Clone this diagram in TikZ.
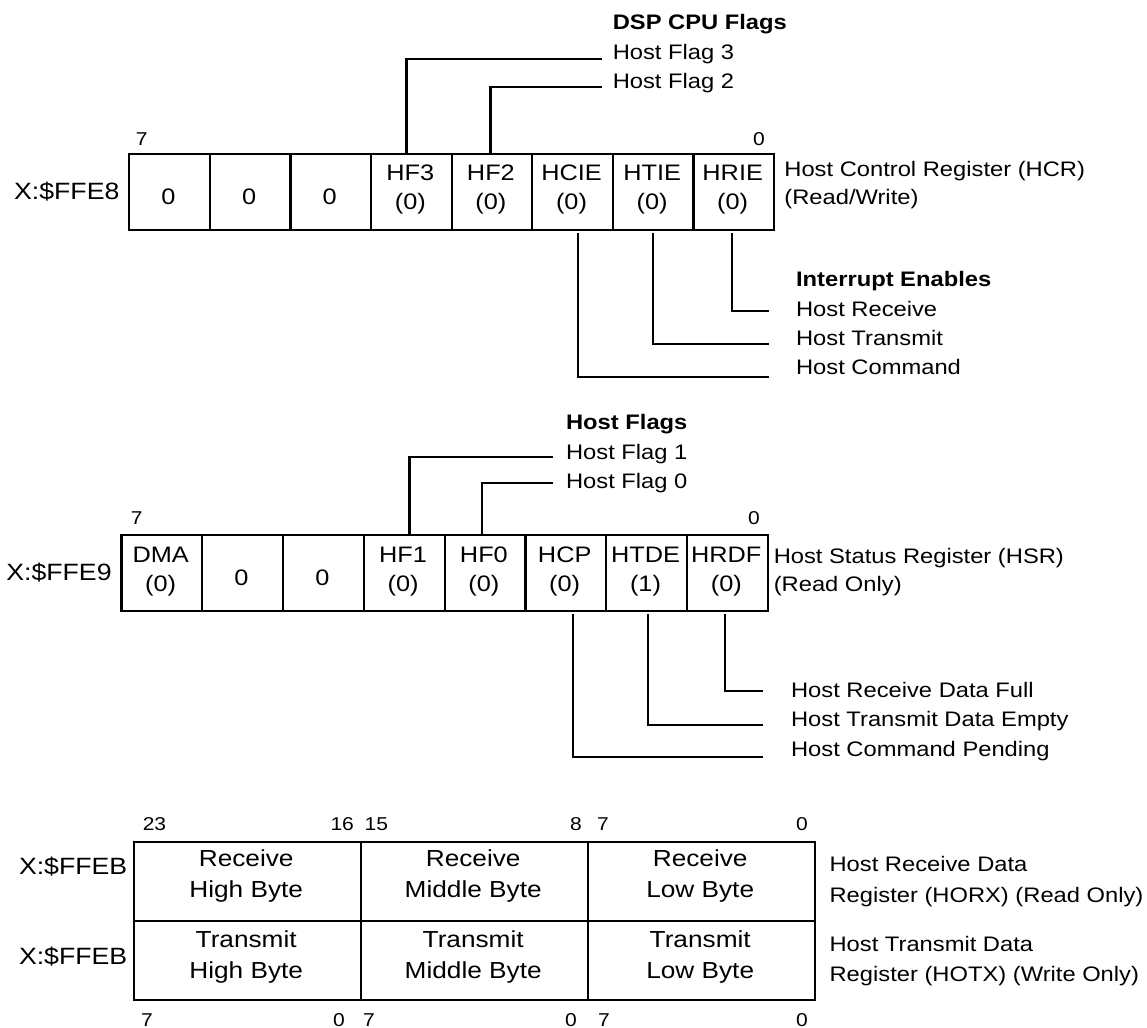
\documentclass[tikz,border=0pt]{standalone}
\usepackage{fontspec}
\setmainfont[FakeStretch=1.13]{Liberation Sans}
\begin{document}
\begin{tikzpicture}[x=0.5pt,y=-0.5pt,
  line width=1.1pt,
  cell/.style={draw, rectangle, inner sep=0pt, anchor=north west, minimum width=40.3pt, minimum height=38.25pt},
  mcell/.style={draw, rectangle, inner sep=0pt, anchor=north west, minimum width=40.4pt, minimum height=38.25pt},
  wcell/.style={draw, rectangle, inner sep=0pt, anchor=north west, minimum width=113.5pt, minimum height=39.6pt},
  lbl/.style={anchor=base west, inner sep=0pt, font=\fontsize{10.5}{12}\selectfont},
  hdr/.style={anchor=base west, inner sep=0pt, font=\fontsize{10.5}{12}\selectfont\bfseries},
  ctext/.style={anchor=base, inner sep=0pt, font=\fontsize{11.2}{13}\selectfont},
  btext/.style={anchor=base, inner sep=0pt, font=\fontsize{11.6}{13}\selectfont},
  addr/.style={anchor=base east, inner sep=0pt, font=\fontsize{11.8}{13}\selectfont},
  bitw/.style={anchor=base west, inner sep=0pt, font=\fontsize{9.3}{11}\selectfont},
  bite/.style={anchor=base east, inner sep=0pt, font=\fontsize{9.3}{11}\selectfont},
  lead/.style={line width=1.1pt}
]
\useasboundingbox (0,0) rectangle (1147,1028);

% ---------------- Host Control Register ----------------
\foreach \i in {1,...,8} {
  \node[cell] (a\i) at ({128.2+(\i-1)*80.6},152.5) {};
}
\node[addr] (ax) at (120.5,199.5) {X:\$FFE8};
\node[bitw] (a7b) at (134.7,145) {7};
\node[bite] (a0b) at (766,145) {0};

\node[ctext] (a1t) at (168.5,204.5) {0};
\node[ctext] (a2t) at (249.1,204.5) {0};
\node[ctext] (a3t) at (329.7,204.5) {0};
\node[ctext] (a4t) at (410.3,180) {HF3};
\node[ctext] (a4v) at (410.3,209) {(0)};
\node[ctext] (a5t) at (490.9,180) {HF2};
\node[ctext] (a5v) at (490.9,209) {(0)};
\node[ctext] (a6t) at (571.5,180) {HCIE};
\node[ctext] (a6v) at (571.5,209) {(0)};
\node[ctext] (a7t) at (652.1,180) {HTIE};
\node[ctext] (a7v) at (652.1,209) {(0)};
\node[ctext] (a8t) at (732.7,180) {HRIE};
\node[ctext] (a8v) at (732.7,209) {(0)};

\node[lbl] (hcr1) at (783.3,176.7) {Host Control Register (HCR)};
\node[lbl] (hcr2) at (783.3,204) {(Read/Write)};

\node[hdr] (dsp) at (611.7,29) {DSP CPU Flags};
\node[lbl] (hf3) at (611.7,59.3) {Host Flag 3};
\node[lbl] (hf2) at (611.7,88.3) {Host Flag 2};
\draw[lead] ([xshift=-2.5pt]a4.north) |- ([xshift=-5pt]hf3.base west);
\draw[lead] ([xshift=-0.8pt]a5.north) |- ([xshift=-5pt,yshift=0.5pt]hf2.base west);

\node[hdr] (ie) at (795,286.7) {Interrupt Enables};
\node[lbl] (hr) at (795,316) {Host Receive};
\node[lbl] (ht) at (795,345) {Host Transmit};
\node[lbl] (hc) at (795,374) {Host Command};
\draw[lead] ([xshift=-1pt,yshift=-1pt]a8.south) |- ([xshift=-12.85pt,yshift=2.65pt]hr.base west);
\draw[lead] ([yshift=-1pt]a7.south) |- ([xshift=-12.85pt,yshift=0.5pt]ht.base west);
\draw[lead] ([xshift=2.6pt,yshift=-1pt]a6.south) |- ([xshift=-12.85pt,yshift=-1.35pt]hc.base west);

% ---------------- Host Status Register ----------------
\foreach \i in {1,...,8} {
  \node[mcell] (m\i) at ({120.3+(\i-1)*80.8},533.5) {};
}
\node[addr] (mx) at (112.7,580.5) {X:\$FFE9};
\node[bitw] (m7b) at (129.7,524) {7};
\node[bite] (m0b) at (761,524) {0};

\node[ctext] (m1t) at (160.7,562) {DMA};
\node[ctext] (m1v) at (160.7,591) {(0)};
\node[ctext] (m2t) at (241.5,585.5) {0};
\node[ctext] (m3t) at (322.3,585.5) {0};
\node[ctext] (m4t) at (403.1,562) {HF1};
\node[ctext] (m4v) at (403.1,591) {(0)};
\node[ctext] (m5t) at (483.9,562) {HF0};
\node[ctext] (m5v) at (483.9,591) {(0)};
\node[ctext] (m6t) at (564.7,562) {HCP};
\node[ctext] (m6v) at (564.7,591) {(0)};
\node[ctext] (m7t) at (645.5,562) {HTDE};
\node[ctext] (m7v) at (645.5,591) {(1)};
\node[ctext] (m8t) at (726.3,562) {HRDF};
\node[ctext] (m8v) at (726.3,591) {(0)};

\node[lbl] (hsr1) at (772.7,563) {Host Status Register (HSR)};
\node[lbl] (hsr2) at (772.7,591) {(Read Only)};

\node[hdr] (hfl) at (565,429.3) {Host Flags};
\node[lbl] (hf1) at (565,459.3) {Host Flag 1};
\node[lbl] (hf0) at (565,488.3) {Host Flag 0};
\draw[lead] ([xshift=2.6pt]m4.north) |- ([xshift=-5.85pt,yshift=1.3pt]hf1.base west);
\draw[lead] ([xshift=-1.6pt]m5.north) |- ([xshift=-5.85pt,yshift=2.5pt]hf0.base west);

\node[lbl] (rdf) at (790,697) {Host Receive Data Full};
\node[lbl] (tde) at (790,726.7) {Host Transmit Data Empty};
\node[lbl] (hcp) at (790,756.7) {Host Command Pending};
\draw[lead] ([xshift=-1.15pt,yshift=-1pt]m8.south) |- ([xshift=-13.65pt,yshift=3.15pt]rdf.base west);
\draw[lead] ([xshift=0.6pt,yshift=-1pt]m7.south) |- ([xshift=-13.65pt,yshift=0.85pt]tde.base west);
\draw[lead] ([xshift=3.5pt,yshift=-1pt]m6.south) |- ([xshift=-13.65pt,yshift=-0.3pt]hcp.base west);

% ---------------- Host Data Registers ----------------
\foreach \c in {1,2,3} {
  \node[wcell] (b1\c) at ({132.7+(\c-1)*227},840.7) {};
  \node[wcell] (b2\c) at ({132.7+(\c-1)*227},919.9) {};
}
\node[addr] (bx1) at (128.3,874) {X:\$FFEB};
\node[addr] (bx2) at (128.3,964) {X:\$FFEB};

\node[btext] (b11t) at (246.2,866.7) {Receive};
\node[btext] (b11u) at (246.2,897) {High Byte};
\node[btext] (b12t) at (473.2,866.7) {Receive};
\node[btext] (b12u) at (473.2,897) {Middle Byte};
\node[btext] (b13t) at (700.2,866.7) {Receive};
\node[btext] (b13u) at (700.2,897) {Low Byte};
\node[btext] (b21t) at (246.2,947.7) {Transmit};
\node[btext] (b21u) at (246.2,978.3) {High Byte};
\node[btext] (b22t) at (473.2,947.7) {Transmit};
\node[btext] (b22u) at (473.2,978.3) {Middle Byte};
\node[btext] (b23t) at (700.2,947.7) {Transmit};
\node[btext] (b23u) at (700.2,978.3) {Low Byte};

\node[bitw] (t23) at (141.7,830) {23};
\node[bite] (t16) at (355,830) {16};
\node[bitw] (t15) at (363.5,830) {15};
\node[bite] (t8) at (583,830) {8};
\node[bitw] (t7) at (596,830) {7};
\node[bite] (t0) at (809,830) {0};
\node[bitw] (u7a) at (140,1026) {7};
\node[bite] (u0a) at (346,1026) {0};
\node[bitw] (u7b) at (362,1026) {7};
\node[bite] (u0b) at (578,1026) {0};
\node[bitw] (u7c) at (597,1026) {7};
\node[bite] (u0c) at (809,1026) {0};

\node[lbl] (rx1) at (828.5,871.7) {Host Receive Data};
\node[lbl] (rx2) at (828.5,902) {Register (HORX) (Read Only)};
\node[lbl] (tx1) at (828.5,951.7) {Host Transmit Data};
\node[lbl] (tx2) at (828.5,981.7) {Register (HOTX) (Write Only)};
\end{tikzpicture}
\end{document}
